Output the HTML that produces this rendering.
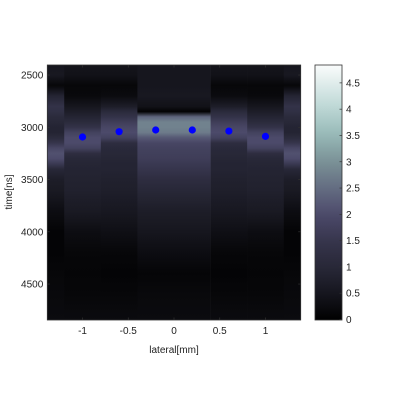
<!DOCTYPE html>
<html><head><meta charset="utf-8"><style>
body{margin:0;background:#fff;width:400px;height:400px;overflow:hidden}
text{font-family:"Liberation Sans",sans-serif;font-size:10px;fill:#222}
</style></head><body>
<svg id="chart" width="400" height="400" xmlns="http://www.w3.org/2000/svg">
<defs id="defs"></defs>
<g id="heat"></g>
<g id="dots"></g>
<rect x="47.3" y="65" width="253.4" height="255" fill="none" stroke="#333" stroke-width="0.8"/>
<g id="axes"></g>
<text x="174" y="353" text-anchor="middle" font-size="11">lateral[mm]</text>
<text x="12" y="192" text-anchor="middle" font-size="11" transform="rotate(-90 12 192)">time[ns]</text>
<rect id="cbar" x="315" y="65" width="27" height="255" stroke="#333" stroke-width="0.8"/>
<g id="cbaxis"></g>
</svg>
<script>
const times=[2400,2500,2600,2700,2800,2850,2900,2950,3000,3050,3100,3150,3200,3250,3300,3350,3400,3500,3600,3700,3800,3900,4000,4200,4400,4600,4850];
const colCenters=[-1.4,-1.0,-0.6,-0.2,0.2,0.6,1.0,1.4];
const valsOuter=[0.5,0.55,0.15,0.9,1.4,1.3,1.1,1.0,0.9,0.9,1.1,1.5,1.9,2.1,2.0,1.6,1.0,0.7,0.6,0.45,0.3,0.2,0.1,0.1,0.15,0.2,0.25];
const valsOne=[0.45,0.4,0.15,0.2,0.5,0.7,0.9,1.1,1.4,1.8,2.0,2.0,1.8,1.2,1.0,0.95,0.9,0.85,0.8,0.7,0.6,0.45,0.3,0.15,0.12,0.15,0.25];
const valsMid=[0.45,0.4,0.15,0.25,0.7,1.1,1.4,1.7,1.9,2.0,1.8,1.2,1.05,1.0,0.95,0.9,0.9,0.8,0.75,0.65,0.55,0.45,0.35,0.15,0.1,0.15,0.25];
const valsCenter=[0.5,0.5,0.5,0.55,0.4,0.05,2.4,2.8,2.8,2.7,2.2,1.9,1.8,1.75,1.7,1.6,1.5,1.2,1.0,0.85,0.7,0.6,0.5,0.3,0.12,0.2,0.25];
const colValues=[valsOuter,valsOne,valsMid,valsCenter,valsCenter,valsMid,valsOne,valsOuter];
const peakX=[-1.0,-0.6,-0.2,0.2,0.6,1.0];
const peakT=[3093,3042,3026,3026,3036,3087];
const xTicks=[-1,-0.5,0,0.5,1];
const xTickLabels=["-1","-0.5","0","0.5","1"];
const yTicks=[2500,3000,3500,4000,4500];
const yTickLabels=["2500","3000","3500","4000","4500"];
const cTicks=[0,0.5,1,1.5,2,2.5,3,3.5,4,4.5];
const cTickLabels=["0","0.5","1","1.5","2","2.5","3","3.5","4","4.5"];
const NS="http://www.w3.org/2000/svg";
const X0=47.3,X1=300.7,Y0=65,Y1=320;
const xMin=-1.385,xMax=1.385,tMin=2404,tMax=4844,cMax=4.84;
const xs=v=>X0+(v-xMin)/(xMax-xMin)*(X1-X0);
const ys=t=>Y0+(t-tMin)/(tMax-tMin)*(Y1-Y0);
const cy=v=>319.5-v/cMax*(319.5-65);
const stops=[[0,[0,0,0]],[0.5,[22,22,30]],[1,[40,40,56]],[1.5,[54,53,76]],[2,[76,74,106]],[2.5,[100,108,130]],[3,[122,145,150]],[3.5,[150,184,182]],[4,[186,214,212]],[4.84,[250,252,252]]];
function cmap(v){v=Math.max(0,Math.min(cMax,v));for(let i=1;i<stops.length;i++){if(v<=stops[i][0]){const a=stops[i-1],b=stops[i],f=(v-a[0])/(b[0]-a[0]);return 'rgb('+a[1].map((c,k)=>Math.round(c+(b[1][k]-c)*f)).join(',')+')';}}return 'rgb(250,252,252)';}
function el(tag,attrs,parent){const e=document.createElementNS(NS,tag);for(const k in attrs)e.setAttribute(k,attrs[k]);parent.appendChild(e);return e;}
const defs=document.getElementById('defs'),heat=document.getElementById('heat');
el('clipPath',{id:'clip'},defs);
el('rect',{x:X0,y:Y0,width:X1-X0,height:Y1-Y0},document.getElementById('clip'));
heat.setAttribute('clip-path','url(#clip)');
colCenters.forEach((c,i)=>{
 const g=el('linearGradient',{id:'g'+i,x1:0,y1:Y0,x2:0,y2:Y1,gradientUnits:'userSpaceOnUse'},defs);
 times.forEach((t,j)=>{el('stop',{offset:Math.max(0,Math.min(1,(ys(t)-Y0)/(Y1-Y0))),'stop-color':cmap(colValues[i][j])},g);});
 const r=el('rect',{x:xs(c-0.2),y:Y0,width:xs(c+0.2)-xs(c-0.2)+0.3,height:Y1-Y0,fill:'url(#g'+i+')'},heat);
 
 
});
const dots=document.getElementById('dots');
peakX.forEach((x,i)=>{const d=el('circle',{cx:xs(x),cy:ys(peakT[i]),r:3.6,fill:'#0000ff'},dots);
 
 });
const axes=document.getElementById('axes');
xTicks.forEach((v,i)=>{const x=xs(v);el('line',{x1:x,x2:x,y1:Y1,y2:Y1-2.5,stroke:'#333','stroke-width':0.7},axes);el('line',{x1:x,x2:x,y1:Y0,y2:Y0+2.5,stroke:'#333','stroke-width':0.7},axes);
 const t=el('text',{x:x,y:Y1+14,'text-anchor':'middle'},axes);t.textContent=xTickLabels[i];
 
 });
yTicks.forEach((v,i)=>{const y=ys(v);el('line',{x1:X0,x2:X0+2.5,y1:y,y2:y,stroke:'#333','stroke-width':0.7},axes);el('line',{x1:X1,x2:X1-2.5,y1:y,y2:y,stroke:'#333','stroke-width':0.7},axes);
 const t=el('text',{x:X0-4,y:y+3.5,'text-anchor':'end'},axes);t.textContent=yTickLabels[i];
 
 });
const cg=el('linearGradient',{id:'cg',x1:0,y1:1,x2:0,y2:0},defs);
for(let k=0;k<=20;k++){const v=k/20*cMax;el('stop',{offset:k/20,'stop-color':cmap(v)},cg);}
document.getElementById('cbar').setAttribute('fill','url(#cg)');
const cb=document.getElementById('cbaxis');
cTicks.forEach((v,i)=>{const y=cy(v);el('line',{x1:342,x2:339.5,y1:y,y2:y,stroke:'#333','stroke-width':0.7},cb);
 const t=el('text',{x:346,y:y+3.5},cb);t.textContent=cTickLabels[i];
 
 });
</script>
</body></html>
